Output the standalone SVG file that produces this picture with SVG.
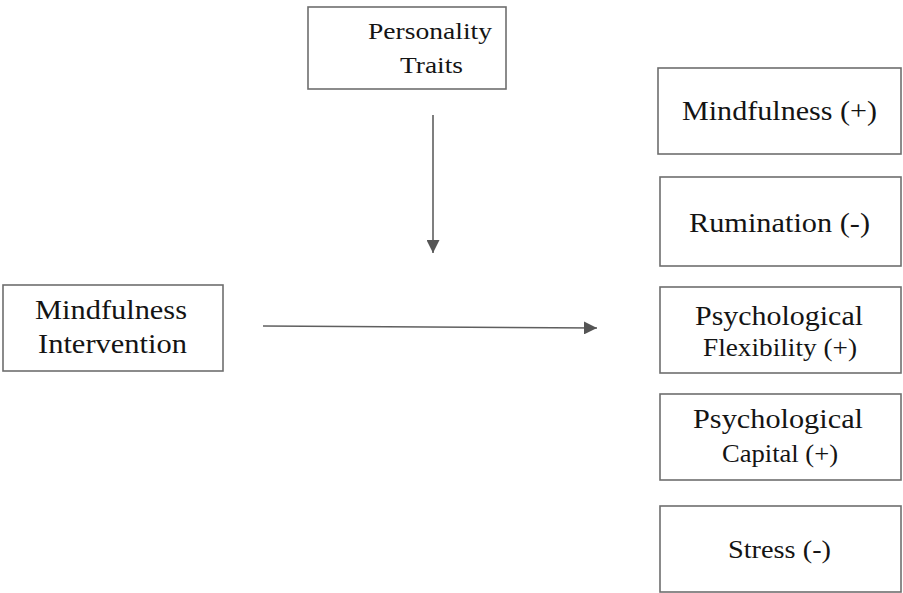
<svg xmlns="http://www.w3.org/2000/svg" width="903" height="593" viewBox="0 0 903 593">
<style>
.box{fill:#fff;stroke:#6e6e6e;stroke-width:1.6}
.t{font-family:'Liberation Serif','DejaVu Serif','Times New Roman',serif;font-size:28px;fill:#141414}
.s{font-size:25px}
.p{font-size:24px}
.c{stroke:#5f5f5f;stroke-width:1.6;fill:none}
</style>
<defs>
<marker id="ah" viewBox="0 0 10 10" refX="10" refY="5" markerWidth="13" markerHeight="13" markerUnits="userSpaceOnUse" orient="auto">
<path d="M0,0 L10,5 L0,10 Z" fill="#555"/>
</marker>
</defs>
<rect width="903" height="593" fill="#fff"/>
<g id="connectors">
<line class="c" x1="433" y1="115" x2="433" y2="253" marker-end="url(#ah)"/>
<line class="c" x1="263" y1="326" x2="597" y2="328" marker-end="url(#ah)"/>
</g>
<g id="personality">
<rect class="box" x="308" y="7" width="198" height="82"/>
<text class="t p" x="368" y="39" textLength="124" lengthAdjust="spacingAndGlyphs">Personality</text>
<text class="t p" x="400" y="73" textLength="63" lengthAdjust="spacingAndGlyphs">Traits</text>
</g>
<g id="intervention">
<rect class="box" x="3" y="285" width="220" height="86"/>
<text class="t" x="35" y="319" textLength="152" lengthAdjust="spacingAndGlyphs">Mindfulness</text>
<text class="t" x="38" y="353" textLength="149" lengthAdjust="spacingAndGlyphs">Intervention</text>
</g>
<g id="mindfulness">
<rect class="box" x="658" y="68" width="243" height="86"/>
<text class="t" x="682" y="120" textLength="195" lengthAdjust="spacingAndGlyphs">Mindfulness (+)</text>
</g>
<g id="rumination">
<rect class="box" x="660" y="177" width="241" height="89"/>
<text class="t" x="689" y="232" textLength="181" lengthAdjust="spacingAndGlyphs">Rumination (-)</text>
</g>
<g id="flexibility">
<rect class="box" x="660" y="287" width="241" height="86"/>
<text class="t" x="695" y="325" textLength="168" lengthAdjust="spacingAndGlyphs">Psychological</text>
<text class="t s" x="703" y="356" textLength="154" lengthAdjust="spacingAndGlyphs">Flexibility (+)</text>
</g>
<g id="capital">
<rect class="box" x="660" y="394" width="241" height="86"/>
<text class="t" x="693" y="428" textLength="170" lengthAdjust="spacingAndGlyphs">Psychological</text>
<text class="t s" x="722" y="462" textLength="116" lengthAdjust="spacingAndGlyphs">Capital (+)</text>
</g>
<g id="stress">
<rect class="box" x="660" y="506" width="241" height="86"/>
<text class="t s" x="728" y="558" textLength="103" lengthAdjust="spacingAndGlyphs">Stress (-)</text>
</g>
</svg>
